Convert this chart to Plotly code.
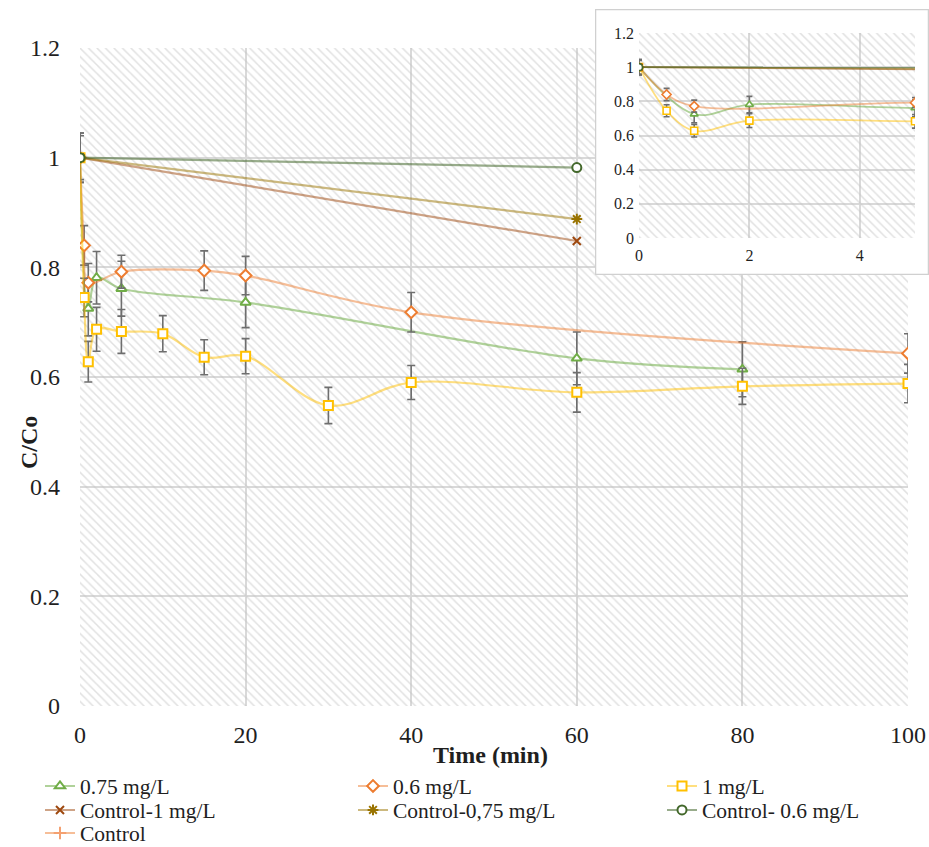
import plotly.graph_objects as go

# ---------------- data ----------------
t_075 = [0, 1, 2, 5, 20, 60, 80]
c_075 = [1.0, 0.725, 0.781, 0.761, 0.736, 0.634, 0.614]
e_075 = [0.045, 0.05, 0.048, 0.05, 0.046, 0.048, 0.05]

t_06 = [0, 0.5, 1, 5, 15, 20, 40, 100]
c_06 = [1.0, 0.84, 0.772, 0.792, 0.794, 0.785, 0.718, 0.643]
e_06 = [0.045, 0.036, 0.035, 0.03, 0.036, 0.035, 0.036, 0.036]

t_1 = [0, 0.5, 1, 2, 5, 10, 15, 20, 30, 40, 60, 80, 100]
c_1 = [1.0, 0.745, 0.628, 0.687, 0.683, 0.679, 0.636, 0.638, 0.548, 0.590, 0.572, 0.583, 0.588]
e_1 = [0.04, 0.035, 0.037, 0.04, 0.04, 0.033, 0.032, 0.032, 0.033, 0.031, 0.036, 0.033, 0.035]

t_ctrl1 = [0, 60]
c_ctrl1 = [1.0, 0.848]
t_ctrl075 = [0, 60]
c_ctrl075 = [1.0, 0.888]
t_ctrl06 = [0, 60]
c_ctrl06 = [1.0, 0.982]
t_ctrl = [0]
c_ctrl = [1.0]

names = ["0.75 mg/L", "0.6 mg/L", "1 mg/L",
         "Control-1 mg/L", "Control-0,75 mg/L", "Control- 0.6 mg/L", "Control"]

X_MAIN = [0, 100]
Y_MAIN = [0, 1.2]
X_INSET = [0, 5]
Y_INSET = [0, 1.2]

# ---------------- layout geometry ----------------
W, H = 929, 847
ML, MR, MT, MB = 80, 0, 8, 141
PW, PH = W - ML - MR, H - MT - MB


def px(x):
    return (x - ML) / PW


def py(y):
    return (H - MB - y) / PH


FONT = "Liberation Serif, Times New Roman, serif"
TXT = "#1f1f1f"
GRID = "#d9d9d9"
ERR = "#6e6e6e"
HATCH = "#c4c4c4"

# legend slots (text-left pixel - 40, row centre pixel)
COLS = [40, 353, 662]
ROWS = [786, 810, 833]

series = [
    dict(t=t_ctrl, c=c_ctrl, e=None, name=names[6], sym="cross-thin-open", mc="#F4A070",
         lc="rgba(237,125,49,0.5)", fill=None, shape="linear", slot=(0, 2), size=9),
    dict(t=t_075, c=c_075, e=e_075, name=names[0], sym="triangle-up", mc="#70AD47",
         lc="rgba(112,173,71,0.55)", fill="white", shape="spline", slot=(0, 0), size=9),
    dict(t=t_06, c=c_06, e=e_06, name=names[1], sym="diamond", mc="#ED7D31",
         lc="rgba(237,125,49,0.5)", fill="white", shape="spline", slot=(1, 0), size=9),
    dict(t=t_1, c=c_1, e=e_1, name=names[2], sym="square", mc="#FFC000",
         lc="rgba(255,192,0,0.5)", fill="white", shape="spline", slot=(2, 0), size=9),
    dict(t=t_ctrl1, c=c_ctrl1, e=None, name=names[3], sym="x-thin-open", mc="#9E480E",
         lc="rgba(158,72,14,0.5)", fill=None, shape="linear", slot=(0, 1), size=8),
    dict(t=t_ctrl075, c=c_ctrl075, e=None, name=names[4], sym="asterisk-open", mc="#997300",
         lc="rgba(153,115,0,0.5)", fill=None, shape="linear", slot=(1, 1), size=9),
    dict(t=t_ctrl06, c=c_ctrl06, e=None, name=names[5], sym="circle", mc="#43682B",
         lc="rgba(67,104,43,0.55)", fill="white", shape="linear", slot=(2, 1), size=9),
]

fig = go.Figure()


def hatch(xr, yr, xa, ya):
    return go.Scatter(
        x=[xr[0], xr[1], xr[1], xr[0], xr[0]],
        y=[yr[0], yr[0], yr[1], yr[1], yr[0]],
        xaxis=xa, yaxis=ya, mode="lines", line=dict(width=0),
        fill="toself", fillcolor="rgba(0,0,0,0)",
        fillpattern=dict(shape="\\", fgcolor=HATCH, bgcolor="rgba(0,0,0,0)",
                         size=6, solidity=0.25),
        hoverinfo="skip", showlegend=False)


# main hatch background
fig.add_trace(hatch(X_MAIN, Y_MAIN, "x", "y"))


def add_series(i, s, xa, ya, main):
    err = None
    if s["e"] is not None:
        err = dict(type="data", array=s["e"], visible=True, color=ERR,
                   thickness=1.6, width=4 if main else 3)
    sz = s["size"] if main else 7
    if s["fill"] is None:
        marker = dict(symbol=s["sym"], size=sz, color=s["mc"],
                      line=dict(color=s["mc"], width=2))
    else:
        marker = dict(symbol=s["sym"], size=sz, color=s["fill"],
                      line=dict(color=s["mc"], width=2 if main else 1.6))
    leg = "legend" if i == 0 else "legend%d" % (i + 1)
    fig.add_trace(go.Scatter(
        x=s["t"], y=s["c"], name=s["name"], mode="lines+markers",
        xaxis=xa, yaxis=ya, error_y=err, marker=marker,
        line=dict(color=s["lc"], width=2.2 if main else 1.8, shape=s["shape"]),
        showlegend=main, legend=leg))


for i, s in enumerate(series):
    add_series(i, s, "x", "y", True)

# white inset frame (own subplot, drawn above the main one)
fig.add_trace(go.Scatter(
    x=[0, 1, 1, 0, 0], y=[0, 0, 1, 1, 0], xaxis="x2", yaxis="y2",
    mode="lines", fill="toself", fillcolor="white",
    line=dict(color="#d0d0d0", width=2.5), hoverinfo="skip", showlegend=False))

# inset
fig.add_trace(hatch(X_INSET, Y_INSET, "x3", "y3"))
for i, s in enumerate(series):
    add_series(i, s, "x3", "y3", False)

main_dom_x = [0, px(908)]
main_dom_y = [0, py(48)]
box_dom_x = [px(595), 1.0]
box_dom_y = [py(275), py(9)]
ins_dom_x = [px(639), px(915)]
ins_dom_y = [py(238), py(33)]

tickfont = dict(family=FONT, size=24, color=TXT)
ins_tickfont = dict(family=FONT, size=16, color=TXT)

fig.update_layout(
    width=W, height=H,
    margin=dict(l=ML, r=MR, t=MT, b=MB, autoexpand=False),
    paper_bgcolor="white", plot_bgcolor="white",
    font=dict(family=FONT, color=TXT),
    xaxis=dict(domain=main_dom_x, range=X_MAIN, dtick=20, tick0=0,
               showgrid=True, gridcolor=GRID, gridwidth=2, zeroline=False,
               showline=False, ticks="", tickfont=tickfont, ticklabelstandoff=12),
    yaxis=dict(domain=main_dom_y, range=Y_MAIN, dtick=0.2, tick0=0,
               showgrid=True, gridcolor=GRID, gridwidth=2, zeroline=False,
               showline=False, ticks="", tickfont=tickfont, ticklabelstandoff=19),
    xaxis2=dict(domain=box_dom_x, range=[0, 1], visible=False, anchor="y2",
                fixedrange=True),
    yaxis2=dict(domain=box_dom_y, range=[0, 1], visible=False, anchor="x2",
                fixedrange=True),
    xaxis3=dict(domain=ins_dom_x, range=X_INSET, dtick=2, tick0=0, anchor="y3",
                showgrid=True, gridcolor=GRID, gridwidth=1.5, zeroline=False,
                showline=False, ticks="", tickfont=ins_tickfont, ticklabelstandoff=6),
    yaxis3=dict(domain=ins_dom_y, range=Y_INSET, dtick=0.2, tick0=0, anchor="x3",
                showgrid=True, gridcolor=GRID, gridwidth=1.5, zeroline=False,
                showline=False, ticks="", tickfont=ins_tickfont, ticklabelstandoff=4),
    showlegend=True,
)

legends = {}
for i, s in enumerate(series):
    key = "legend" if i == 0 else "legend%d" % (i + 1)
    col, row = s["slot"]
    legends[key] = dict(orientation="h", xanchor="left", yanchor="middle",
                        x=px(COLS[col]), y=py(ROWS[row]),
                        font=dict(family=FONT, size=21.5, color=TXT),
                        bgcolor="rgba(0,0,0,0)", borderwidth=0, itemwidth=30)
fig.update_layout(**legends)

fig.add_annotation(text="<b>Time (min)</b>", xref="paper", yref="paper",
                   x=px(490), y=py(755), showarrow=False,
                   xanchor="center", yanchor="middle",
                   font=dict(family=FONT, size=24, color=TXT))
fig.add_annotation(text="<b>C/Co</b>", xref="paper", yref="paper",
                   x=px(29), y=py(443), showarrow=False, textangle=-90,
                   xanchor="center", yanchor="middle",
                   font=dict(family=FONT, size=24, color=TXT))

fig.write_html("out.html")
